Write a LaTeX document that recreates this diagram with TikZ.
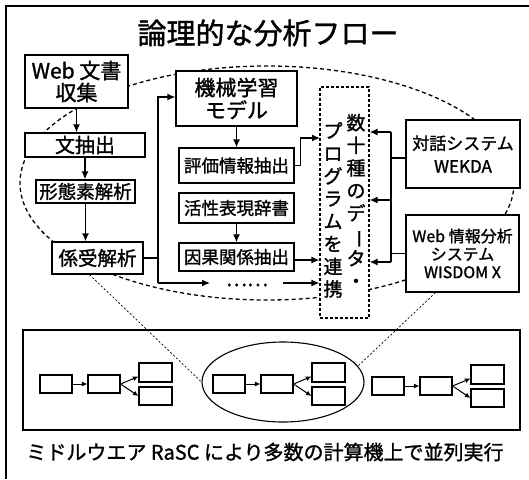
\documentclass[tikz,border=0pt]{standalone}
\usepackage{fontspec}
\newfontfamily\jp{Noto Sans CJK JP}[FakeBold=1.3]
\usetikzlibrary{arrows.meta,shapes.geometric}
\newcommand\myfs[2]{\jp\fontsize{#1pt}{#2pt}\selectfont}
\newcommand\vbar{\rotatebox[origin=c]{-90}{ー}}
\begin{document}
\begin{tikzpicture}[x=1pt,y=-1pt,
  box/.style={draw, line width=1.3pt, fill=white, inner sep=0pt, align=center},
  conn/.style={line width=1.3pt},
  arr/.style={line width=1.3pt, -{Latex[length=8pt,width=7pt]}},
  sarr/.style={line width=1pt, -{Latex[length=5.5pt,width=5pt]}},
  sbox/.style={draw, line width=1.1pt, fill=white, inner sep=0pt},
  bigdash/.style={line width=1.3pt, dash pattern=on 4pt off 3pt},
  zoomline/.style={line width=0.7pt, dash pattern=on 2pt off 2pt}]
\useasboundingbox (0,0) rectangle (529,479);
% outer frame (top and left only)
\coordinate (ftr) at (529,6);
\coordinate (ftl) at (6,6);
\coordinate (fbl) at (6,479);
\draw[line width=1.5pt] (ftr) -- (ftl) -- (fbl);
% title
\node[font=\myfs{29}{32}] (title) at (268,33) {論理的な分析フロー};
% big dashed ellipse
\draw[bigdash] (267,183) ellipse [x radius=247pt, y radius=117pt];
% left chain
\node[box, minimum width=103pt, minimum height=53pt, font=\myfs{21}{22}] (web) at (76.5,81.5) {Web 文書\\収集};
\node[box, minimum width=120pt, minimum height=24pt, font=\myfs{20}{22}] (bun) at (85,145) {文抽出};
\node[box, minimum width=99pt, minimum height=23pt, font=\myfs{18.5}{20}] (keitai) at (85.5,191.5) {形態素解析};
\node[box, minimum width=91pt, minimum height=32pt, font=\myfs{19.5}{21}] (kakari) at (97.5,258) {係受解析};
% middle column
\node[box, minimum width=121pt, minimum height=55pt, font=\myfs{21}{22.5}] (kikai) at (236.5,98.5) {機械学習\\モデル};
\node[box, minimum width=115pt, minimum height=35pt, font=\myfs{17.5}{20}] (hyoka) at (236.5,165.5) {評価情報抽出};
\node[box, minimum width=115pt, minimum height=30pt, font=\myfs{17.5}{20}] (kassei) at (236.5,208) {活性表現辞書};
\node[box, minimum width=115pt, minimum height=28pt, font=\myfs{17.5}{20}] (inga) at (236.5,257) {因果関係抽出};
% program box
\node[draw, line width=1.1pt, dash pattern=on 3pt off 2pt, fill=white, minimum width=49pt, minimum height=231pt, inner sep=0pt] (prog) at (344.5,202.5) {};
\node[align=center, inner sep=0pt, font=\myfs{19}{22.6}] (pcr) at (356,201) {数\\十\\種\\の\\デ\\\vbar\\タ\\・};
\node[align=center, inner sep=0pt, font=\myfs{19}{22.6}] (pcl) at (333,210) {プ\\ロ\\グ\\ラ\\ム\\を\\連\\携};
% right boxes
\node[box, minimum width=114pt, minimum height=68pt, font=\myfs{17}{23}] (wekda) at (463,154) {対話システム\\WEKDA};
\node[box, minimum width=113pt, minimum height=77pt, font=\myfs{16}{18}] (wisdom) at (462.5,253.5) {Web 情報分析\\システム\\WISDOM X};
% left chain arrows
\draw[arr] (web.south) -- (web.south |- bun.north);
\draw[arr] (bun.south) -- (bun.south |- keitai.north);
\draw[arr] (keitai.south) -- (keitai.south |- kakari.north);
% left bus
\coordinate (busTop) at (158,97);
\coordinate (busBot) at (158,283);
\draw[conn] (kakari.east) -- (kakari.east -| busTop);
\draw[arr] (busBot) -- (busTop) -- (busTop -| kikai.west);
\coordinate (dotL) at (210,283);
\draw[arr] (busBot) -- (dotL);
\node[font=\myfs{20}{22}, inner sep=0pt] (dots) at (247,285) {……};
\coordinate (dotR) at (283,283);
\draw[arr] (dotR) -- (dotR -| prog.west);
% middle arrows
\draw[arr] (kikai.south) -- (hyoka.north);
\draw[arr] (kassei.south) -- (inga.north);
\coordinate (p1) at (320,138);
\draw[arr] (hyoka.east) -- ++(6pt,0) |- (p1);
\coordinate (p2) at (294,260);
\draw[arr] (p2) -- (p2 -| prog.west);
% right bus
\coordinate (rb1) at (391,132);
\coordinate (rb2) at (391,200);
\coordinate (rb3) at (391,262);
\draw[conn] (rb1) -- (rb3);
\draw[arr] (rb1) -- (rb1 -| prog.east);
\draw[arr] (rb2) -- (rb2 -| prog.east);
\draw[arr] (rb3) -- (rb3 -| prog.east);
\coordinate (wk) at (406,158);
\draw[conn] (wk) -- (wk -| rb1);
\draw[conn] (wisdom.west) -- (wisdom.west -| rb1);
% bottom box
\node[draw, line width=1.3pt, minimum width=497pt, minimum height=100pt, inner sep=0pt] (bottom) at (271.5,380) {};
\node[draw, ellipse, line width=1.1pt, minimum width=162pt, minimum height=80pt, inner sep=0pt] (se) at (283,382) {};
% zoom lines
\draw[zoomline] ([xshift=-8pt]kakari.south) -- (se.west);
\draw[zoomline] ([xshift=-27pt]wisdom.south) -- (se.12);
% small flows
\foreach \i/\dx/\dy in {1/0/0, 2/173/0, 3/332/2} {
  \node[sbox, minimum width=32pt, minimum height=18pt] (a\i) at (56+\dx,384+\dy) {};
  \node[sbox, minimum width=32pt, minimum height=18pt] (b\i) at (104+\dx,384+\dy) {};
  \node[sbox, minimum width=33pt, minimum height=19pt] (u\i) at (155.5+\dx,372.5+\dy) {};
  \node[sbox, minimum width=33pt, minimum height=18pt] (l\i) at (155.5+\dx,396+\dy) {};
  \draw[sarr] (a\i.east) -- (b\i.west);
  \draw[sarr] (b\i.east) -- ([yshift=-4pt]u\i.west);
  \draw[sarr] (b\i.east) -- (l\i.west);
}
% bottom caption
\node[font=\myfs{20}{22}] (caption) at (265,452) {ミドルウエア RaSC により多数の計算機上で並列実行};
\end{tikzpicture}
\end{document}
